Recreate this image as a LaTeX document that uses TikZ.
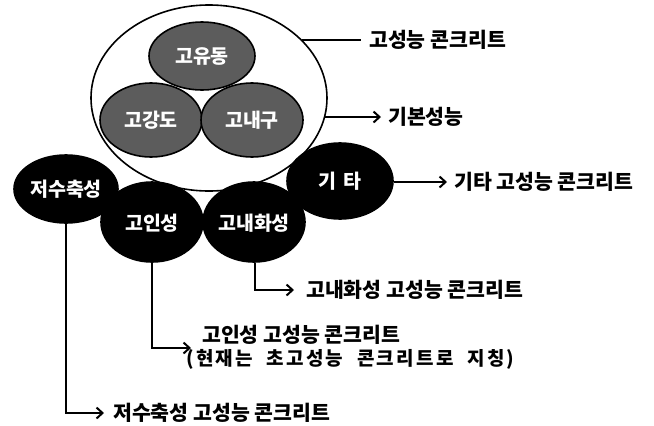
\documentclass[tikz,border=0pt]{standalone}
\usepackage{fontspec}
\setmainfont{Noto Sans CJK KR}
\usetikzlibrary{shapes.geometric,arrows.meta}
\tikzset{
  bubble/.style={ellipse, draw=black, line width=1.6pt, inner sep=0pt, text=white,
    font=\fontsize{19.5}{22}\selectfont\bfseries},
  grayb/.style={bubble, fill=black!64},
  blackb/.style={bubble, fill=black},
  lbl/.style={anchor=west, inner sep=0pt, font=\fontsize{20.5}{24}\selectfont\bfseries},
  conn/.style={line width=1.8pt},
  arr/.style={conn, -{Straight Barb[length=6pt,width=11pt,line width=2pt]}},
}
\begin{document}
\begin{tikzpicture}[x=1pt,y=-1pt]
\useasboundingbox (0,0) rectangle (654,426);
% big ellipse
\node[ellipse, draw=black, line width=1.6pt, fill=white, minimum width=236pt, minimum height=186pt, inner sep=0pt] (big) at (209,98) {};
% gray bubbles
\node[grayb, minimum width=106pt, minimum height=68pt] (yudong) at (202,56) {고유동};
\node[grayb, minimum width=102pt, minimum height=74pt] (gangdo) at (151,120) {고강도};
\node[grayb, minimum width=102pt, minimum height=74pt] (naegu) at (252,120) {고내구};
% black bubbles
\node[blackb, minimum width=104pt, minimum height=68pt] (jeosu) at (66,189) {저수축성};
\node[blackb, minimum width=102pt, minimum height=80pt, text depth=-8pt] (inseong) at (152,222) {고인성};
\node[blackb, minimum width=102pt, minimum height=80pt, text depth=-8pt] (naehwa) at (254,222) {고내화성};
\node[blackb, minimum width=106pt, minimum height=76pt] (gita) at (340,181) {기\,\,타};
% labels
\node[lbl] (t1) at (369,40) {고성능 콘크리트};
\node[lbl] (t2) at (388,117) {기본성능};
\node[lbl] (t3) at (454,182) {기타 고성능 콘크리트};
\node[lbl] (t4) at (306,290) {고내화성 고성능 콘크리트};
\node[lbl] (t5) at (202,335) {고인성 고성능 콘크리트};
\node[lbl, font=\fontsize{19}{22}\selectfont\bfseries\addfontfeature{LetterSpace=12}] (t6) at (186,359) {(현재는\hspace{7pt} 초고성능\hspace{7pt} 콘크리트로\hspace{7pt} 지칭)};
\node[lbl] (t7) at (113,413) {저수축성 고성능 콘크리트};
\coordinate (c5) at (191,348);
% connectors
\draw[conn] (big.32 |- t1.west) -- ([xshift=-8pt]t1.west);
\draw[arr] (big.-9 |- t2.west) -- ([xshift=-7pt]t2.west);
\draw[arr] (gita.east |- t3.west) -- ([xshift=-7pt]t3.west);
\draw[arr] ([xshift=1pt]naehwa.south) |- ([xshift=-12pt]t4.west);
\draw[arr] (inseong.south) |- (c5);
\draw[arr] (jeosu.south) |- ([xshift=-9pt]t7.west);
\end{tikzpicture}
\end{document}
